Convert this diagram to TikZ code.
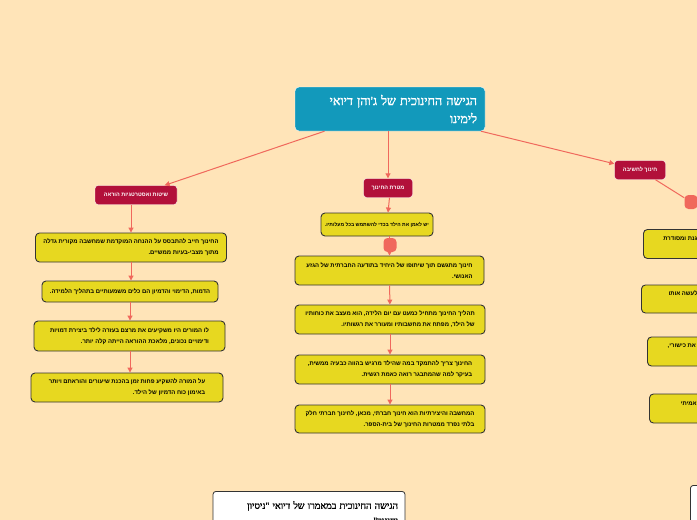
\documentclass[tikz,border=0pt]{standalone}
\usepackage{fontspec}
\usepackage{xcolor}
\usepackage{tikz}
\usetikzlibrary{positioning,arrows.meta,calc}
\TeXXeTstate=1
\newfontfamily\hebfont[Script=Hebrew]{Liberation Sans}
\newfontfamily\hebserif[Script=Hebrew,FakeBold=1.6]{Liberation Serif}
\newcommand{\heb}[1]{\beginR#1\endR}

\definecolor{bgpeach}{RGB}{255,228,184}
\definecolor{rootblue}{RGB}{18,153,187}
\definecolor{topicred}{RGB}{178,16,58}
\definecolor{leafyellow}{RGB}{231,216,32}
\definecolor{linkred}{RGB}{240,104,92}

\tikzset{
  roottopic/.style={draw=white,thin,fill=rootblue,rounded corners=4pt,
            align=right,text=white,inner sep=0pt,
            font=\hebserif\fontsize{12.5}{18}\selectfont},
  maintopic/.style={draw=white,thin,fill=topicred,rounded corners=3pt,
            text=white,inner sep=0pt,minimum height=19pt,
            font=\hebfont\bfseries\fontsize{5.5}{7}\selectfont},
  leaf/.style={draw=black!80,line width=0.9pt,fill=leafyellow,
            rounded corners=4pt,align=right,inner sep=0pt,
            minimum width=191pt,minimum height=29pt,
            font=\hebfont\bfseries\fontsize{5.9}{11}\selectfont},
  paper/.style={draw=black!80,line width=0.8pt,fill=white,rounded corners=3pt,
            align=right,inner sep=0pt,
            font=\hebserif\fontsize{9.5}{15}\selectfont},
  knob/.style={fill=linkred,rounded corners=4pt,minimum width=13pt,
            minimum height=14pt,inner sep=0pt},
  link/.style={linkred,line width=1pt,-{Triangle[length=5pt,width=5pt]}},
  plainlink/.style={linkred,line width=1pt},
}

\begin{document}
\begin{tikzpicture}[x=1pt,y=-1pt]
  \useasboundingbox (0,0) rectangle (697,520);
  \clip (0,0) rectangle (697,520);
  \fill[bgpeach] (0,0) rectangle (697,520);

  % main topic
  \node[roottopic,minimum width=190pt,minimum height=44pt,text width=174pt]
        (root) at (390,109)
        {\heb{הגישה החינוכית של ג'והן דיואי}\\\heb{לימינו}};

  % three branches
  \node[maintopic,minimum width=82pt] (methods)  at (136,195) {\heb{שיטות ואסטרטגיות הוראה}};
  \node[maintopic,minimum width=49pt] (aim)      at (388,188) {\heb{מטרת החינוך}};
  \node[maintopic,minimum width=51pt] (thinking) at (640,170) {\heb{חינוך לחשיבה}};

  \draw[link] (root) -- (methods);
  \draw[link] (root.south -| aim.north) -- (aim);
  \draw[link] (root) -- (thinking);

  % left column
  \node[leaf] (m1) at (131,247.5)
        {\heb{החינוך חייב להתבסס על ההנחה המוקדמת שמחשבה מקורית גדלה}\\\heb{מתוך מצבי-בעיות ממשיים.}};
  \node[leaf,minimum width=176pt,minimum height=21pt] (m2) at (130,291.5)
        {\heb{הדמות, הדימוי והדמיון הם כלים משמעותיים בתהליך הלמידה.}};
  \node[leaf,minimum height=30pt] (m3) at (129.5,336)
        {\heb{לו המורים היו משקיעים את מרצם בעזרה לילד ביצירת דמויות}\\\heb{ודימויים נכונים, מלאכת ההוראה הייתה קלה יותר.}};
  \node[leaf,minimum width=192pt] (m4) at (127,387.5)
        {\heb{על המורה להשקיע פחות זמן בהכנת שיעורים והוראתם ויותר}\\\heb{באימון כוח הדמיון של הילד.}};

  \draw[link] (methods.south -| m1.north) -- (m1);
  \draw[link] (m1) -- (m1 |- m2.north);
  \draw[link] (m2) -- (m2 |- m3.north);
  \draw[link] (m3.south -| m2.south) -- (m2.south |- m4.north);

  % middle column
  \node[leaf,minimum width=112pt,minimum height=23pt,
        font=\hebfont\bfseries\fontsize{5}{11}\selectfont] (a1) at (377,224.5)
        {\heb{יש לאמן את הילד בכדי להשתמש בכל מעלותיו.}};
  \node[leaf,minimum width=189pt] (a2) at (389.5,270.5)
        {\heb{חינוך מתגשם תוך שיתופו של היחיד בתודעה החברתית של הגזע}\\\heb{האנושי.}};
  \node[leaf,minimum width=190pt] (a3) at (390,319.5)
        {\heb{תהליך החינוך מתחיל כמעט עם יום הלידה, הוא מעצב את כוחותיו}\\\heb{של הילד, מפתח את מחשבותיו ומעורר את רגשותיו.}};
  \node[leaf,minimum width=190pt] (a4) at (390,369.5)
        {\heb{החינוך צריך להתמקד במה שהילד מרגיש בהווה כבעיה ממשית,}\\\heb{בעיקר למה שהמתבגר רואה כאמת רגשית.}};
  \node[leaf,minimum width=190pt,minimum height=28pt] (a5) at (390,419)
        {\heb{המחשבה והיצירתיות הוא חינוך חברתי, מכאן, לחינוך חברתי חלק}\\\heb{בלתי נפרד ממטרות החינוך של בית-הספר.}};

  \draw[link] (aim.south -| a2.north) -- (aim.south |- a1.north);
  \draw[link] (a2.north |- a1.south) -- (a2);
  \node[knob] (aknob) at (390,245) {};
  \draw[link] (a2) -- (a3);
  \draw[link] (a3) -- (a4);
  \draw[link] (a4) -- (a5);

  % right column
  \node[knob] (tknob) at (691,202) {};
  \draw[plainlink] (thinking) -- (tknob);
  \node[leaf,anchor=west] (t1) at (643,244)
        {\heb{החשיבה היא הדרך לאפשר לילד למידה מאורגנת ומסודרת}\\\heb{בכל שלב.}};
  \node[leaf,anchor=west,minimum height=28pt] (t2) at (641,299)
        {\heb{יש לתת לילד בעיה אמיתית, לחשוב אותו ולעשה אותו}\\\heb{בעצמו.}};
  \node[leaf,anchor=west] (t3) at (647,351.5)
        {\heb{על המורה לפתח אצל התלמיד את כוחותיו, וגם את כישורי,}\\\heb{במקום לשנן את חומר השעורים.}};
  \node[leaf,anchor=west] (t4) at (649,408.5)
        {\heb{החינוך לחשיבה מבוסס על התנסות בניסיון אמיתי}\\\heb{בחיי היומיום.}};

  % second main topic
  \node[paper,minimum width=192pt,minimum height=44pt,text width=178pt,anchor=north]
        (paper1) at (309,491)
        {\heb{הגישה החינוכית במאמרו של דיואי "ניסיון}\\\heb{וחינוך"}};
  \node[paper,minimum width=80pt,minimum height=50pt,anchor=north west]
        (paper2) at (690,485) {};
\end{tikzpicture}
\end{document}
